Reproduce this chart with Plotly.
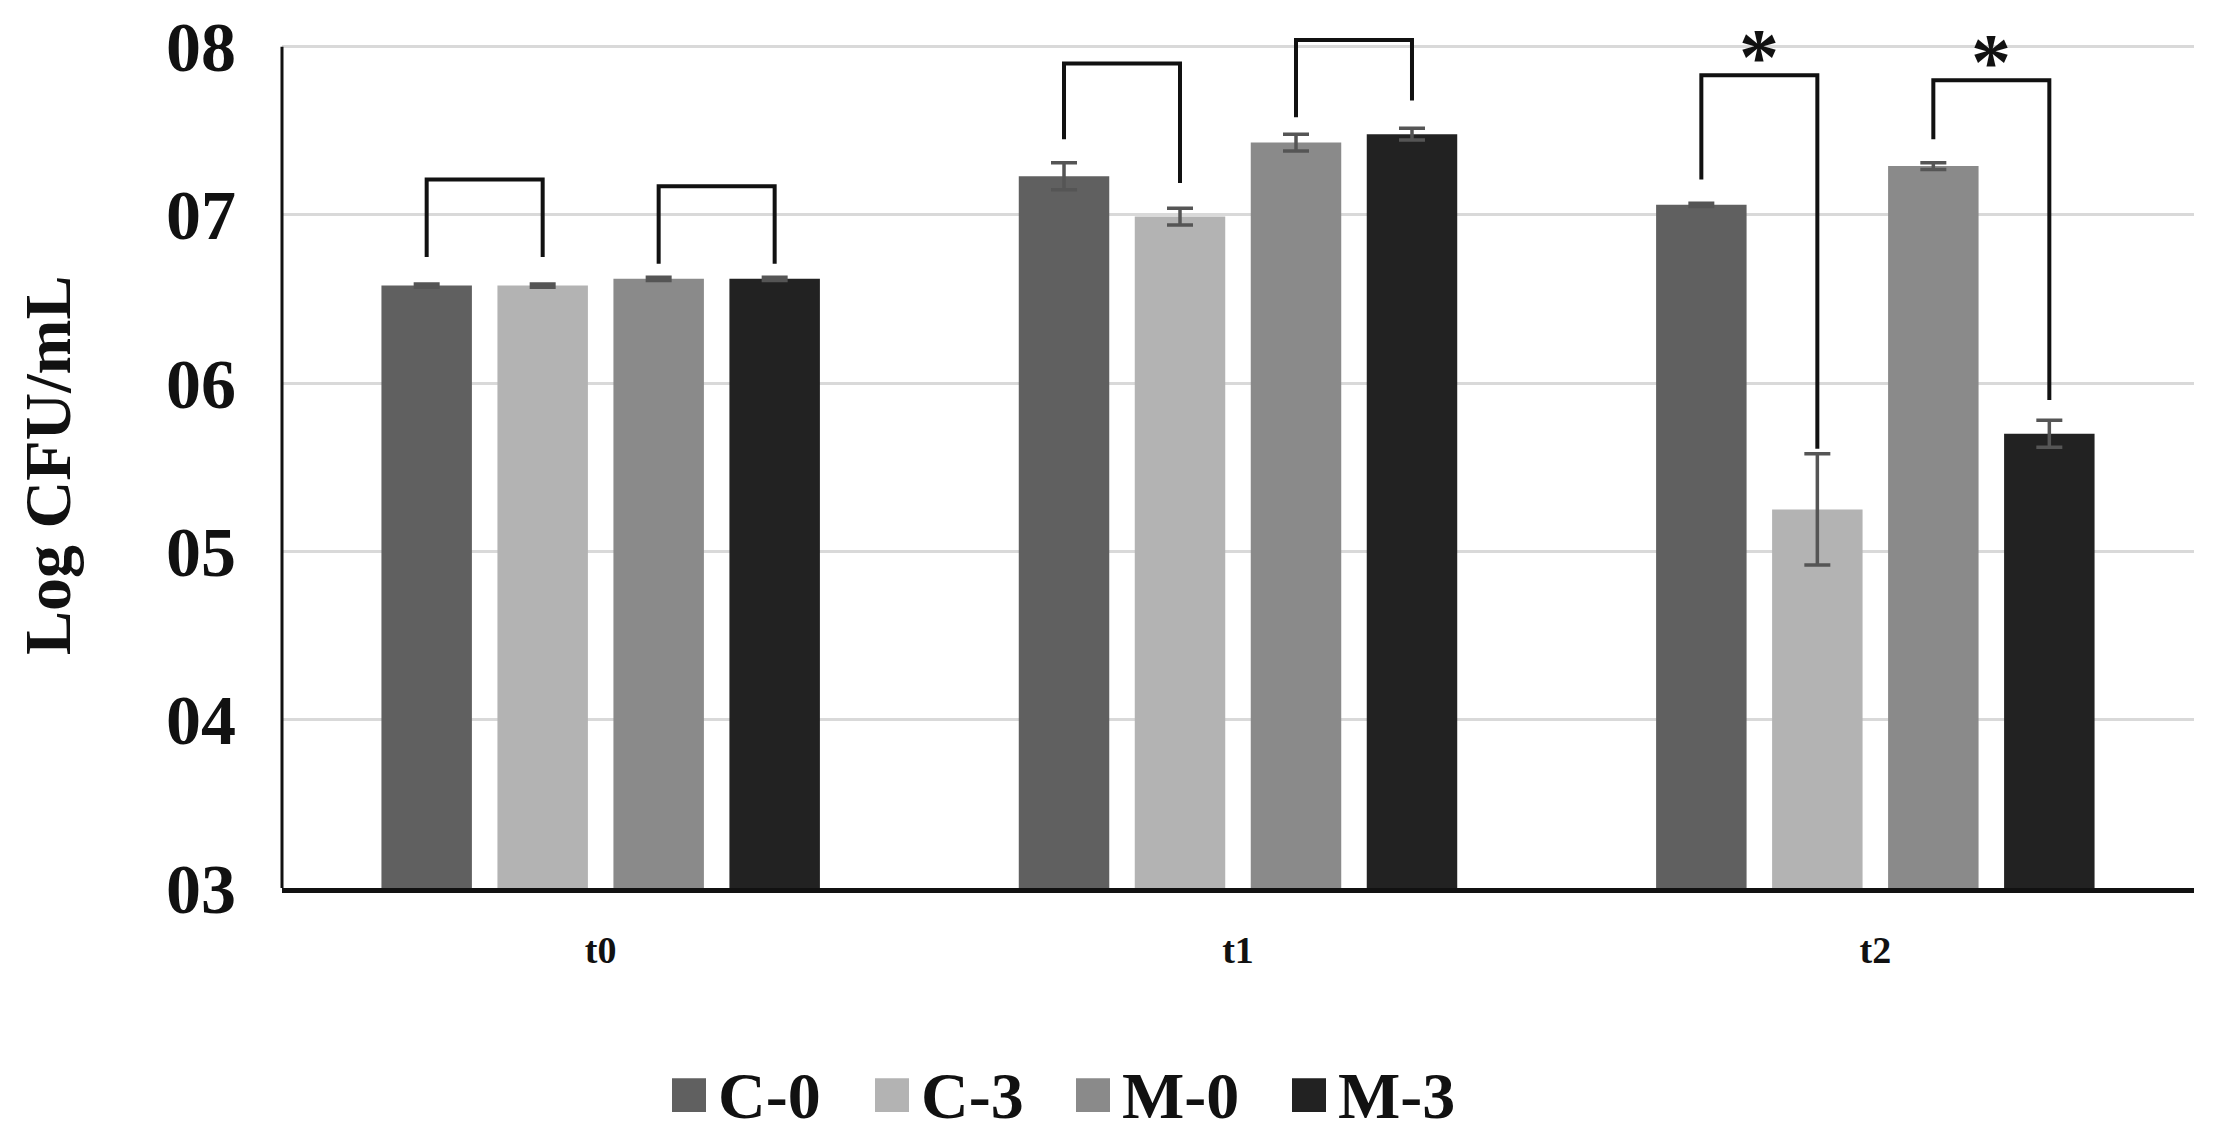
import plotly.graph_objects as go

# ---------------- data ----------------
categories = ["t0", "t1", "t2"]
series_names = ["C-0", "C-3", "M-0", "M-3"]
series_colors = ["#606060", "#b3b3b3", "#8a8a8a", "#222222"]

c0_values = [6.58, 7.23, 7.06]
c3_values = [6.58, 6.99, 5.25]
m0_values = [6.62, 7.43, 7.29]
m3_values = [6.62, 7.48, 5.70]

c0_errors = [0.01, 0.08, 0.01]
c3_errors = [0.01, 0.05, 0.33]
m0_errors = [0.01, 0.05, 0.02]
m3_errors = [0.01, 0.035, 0.08]

y_tick_values = [3, 4, 5, 6, 7, 8]
y_tick_labels = ["03", "04", "05", "06", "07", "08"]

# significance brackets: category index, left series, right series,
# bracket top, left leg bottom, right leg bottom, marker
bracket_category = [0, 0, 1, 1, 2, 2]
bracket_left = [0, 2, 0, 2, 0, 2]
bracket_right = [1, 3, 1, 3, 1, 3]
bracket_top = [7.21, 7.17, 7.90, 8.04, 7.83, 7.80]
bracket_left_bottom = [6.75, 6.71, 7.45, 7.58, 7.21, 7.45]
bracket_right_bottom = [6.75, 6.71, 7.19, 7.68, 5.61, 5.90]
bracket_marker = ["", "", "", "", "*", "*"]

values = [c0_values, c3_values, m0_values, m3_values]
errors = [c0_errors, c3_errors, m0_errors, m3_errors]

# ---------------- layout constants ----------------
W, H = 2217, 1139
PAGE_OFF = 8  # browser body margin
ML, MR, MT, MB = 274, 31, 1, 259
BARGAP = 0.272
BARGROUPGAP = 0.22
FONT = "Liberation Serif"
plot_w = W - ML - MR
plot_h = H - MT - MB


def px_x(px):
    return (px - PAGE_OFF - ML) / plot_w


def px_y(py):
    return (H - MB - (py - PAGE_OFF)) / plot_h


def offset(j):
    return (j - 1.5) * (1 - BARGAP) / len(series_names)


xs = list(range(len(categories)))

fig = go.Figure()
for name, color, vals, errs in zip(series_names, series_colors, values, errors):
    fig.add_trace(go.Bar(
        x=xs, y=vals, name=name,
        marker=dict(color=color, line=dict(width=0)),
        error_y=dict(type="data", array=errs, color="#555555",
                     thickness=3.5, width=13),
        showlegend=False,
    ))

# brackets
for cat, a, b, top, lb, rb, mk in zip(bracket_category, bracket_left, bracket_right,
                                      bracket_top, bracket_left_bottom,
                                      bracket_right_bottom, bracket_marker):
    xa = cat + offset(a)
    xb = cat + offset(b)
    fig.add_trace(go.Scatter(
        x=[xa, xa, xb, xb], y=[lb, top, top, rb], mode="lines",
        line=dict(color="#111111", width=4), hoverinfo="skip",
        showlegend=False,
    ))
    if mk:
        fig.add_annotation(
            x=(xa + xb) / 2, y=top, xref="x", yref="y", text=mk,
            showarrow=False, yanchor="bottom", yshift=-28,
            font=dict(family=FONT, size=80, color="#111111", weight="bold"),
        )

# left axis line (only up to 8)
fig.add_shape(type="line", xref="paper", yref="y", x0=0, x1=0, y0=3, y1=8,
              line=dict(color="#111111", width=3))

# y-axis title
fig.add_annotation(
    x=px_x(48), y=px_y(463), xref="paper", yref="paper",
    text="Log CFU/mL", textangle=-90, showarrow=False,
    xanchor="center", yanchor="middle",
    font=dict(family=FONT, size=66, color="#111111", weight="bold"),
)

# manual legend
sq_left = [672, 875, 1076, 1292]
legend_cy = 1096
sq = 34
for name, color, left in zip(series_names, series_colors, sq_left):
    fig.add_shape(type="rect", xref="paper", yref="paper",
                  x0=px_x(left), x1=px_x(left + sq),
                  y0=px_y(legend_cy + sq / 2), y1=px_y(legend_cy - sq / 2),
                  fillcolor=color, line=dict(width=0))
    fig.add_annotation(
        x=px_x(left + sq + 10), y=px_y(legend_cy), xref="paper", yref="paper",
        text=name, showarrow=False, xanchor="left", yanchor="middle",
        font=dict(family=FONT, size=66, color="#111111", weight="bold"),
    )

fig.update_layout(
    width=W, height=H,
    margin=dict(l=ML, r=MR, t=MT, b=MB),
    paper_bgcolor="white", plot_bgcolor="white",
    barmode="group", bargap=BARGAP, bargroupgap=BARGROUPGAP,
    showlegend=False,
    xaxis=dict(
        range=[-0.5, 2.5], tickvals=xs, ticktext=categories,
        showgrid=False, zeroline=False,
        showline=True, linecolor="#111111", linewidth=5,
        ticks="", ticklabelstandoff=24,
        tickfont=dict(family=FONT, size=38, color="#111111", weight="bold"),
    ),
    yaxis=dict(
        range=[3, 8.2], tickvals=y_tick_values, ticktext=y_tick_labels,
        showgrid=True, gridcolor="#d9d9d9", gridwidth=3,
        zeroline=False, showline=False, ticks="",
        ticklabelstandoff=45, ticklabeloverflow="allow",
        tickfont=dict(family=FONT, size=70, color="#111111", weight="bold"),
    ),
)

fig.write_html("out.html")
